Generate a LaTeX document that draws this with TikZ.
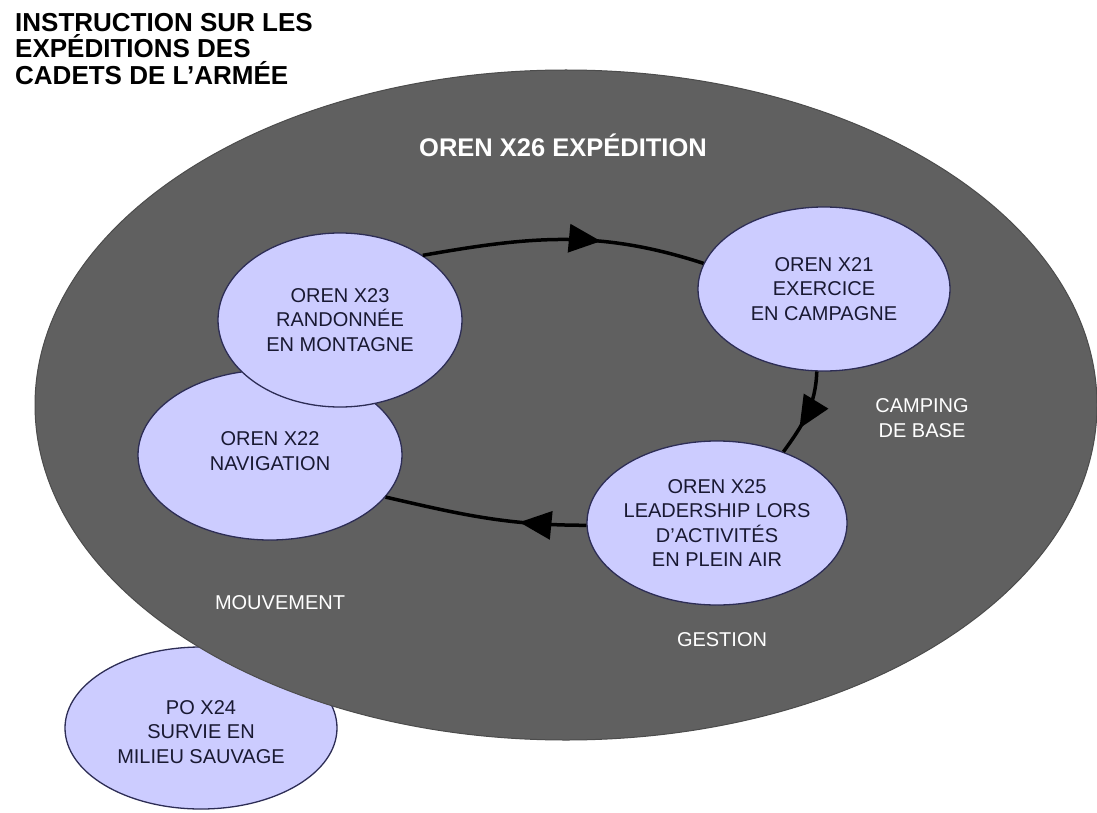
\documentclass[tikz,border=0pt]{standalone}
\usepackage{fontspec}
\setmainfont{Liberation Sans}
\usetikzlibrary{shapes.geometric,arrows.meta,decorations.markings}
\definecolor{darkfill}{RGB}{96,96,96}
\definecolor{lav}{RGB}{204,204,255}
\definecolor{lavline}{RGB}{45,45,85}
\definecolor{navytext}{RGB}{25,25,50}
\begin{document}
\begin{tikzpicture}[x=1pt,y=1pt,
  oval/.style={ellipse, draw=lavline, line width=1.3pt, fill=lav, inner sep=0pt},
  bigoval/.style={ellipse, draw=black!70, line width=1pt, fill=darkfill, inner sep=0pt},
  intext/.style={align=center, text=navytext, font=\fontsize{20}{24.5}\selectfont, inner sep=0pt},
  whitetext/.style={align=center, text=white, font=\fontsize{20}{24.5}\selectfont, inner sep=0pt},
  flow/.style={line width=3.5pt, draw=black},
  arrowat/.style={decoration={markings, mark=at position #1 with {\arrow{Triangle[length=32pt,width=28pt]}}}, postaction={decorate}}
]
\useasboundingbox (0,0) rectangle (1097,-813);
\fill[white] (0,0) rectangle (1097,-813);

% outside ellipse (under the big one)
\node[oval, minimum width=272pt, minimum height=162pt] (x24) at (201,-728) {};

% big ellipse
\node[bigoval, minimum width=1062pt, minimum height=670pt] (big) at (566,-405) {};

% inner ellipses
\node[oval, minimum width=264pt, minimum height=170pt] (x22) at (270,-455) {};
\node[oval, minimum width=244pt, minimum height=174pt] (x23) at (340,-320) {};
\node[oval, minimum width=252pt, minimum height=164pt] (x21) at (824,-289) {};
\node[oval, minimum width=260pt, minimum height=164pt] (x25) at (717,-523) {};

% connectors
\draw[flow, arrowat=0.63] (x23.38) to[out=10, in=162] (x21.168);
\draw[flow, arrowat=0.68] (x21.265) to[out=268, in=54] (x25.47);
\draw[flow, arrowat=0.33] (x25.181) to[out=180, in=-13] (x22.-20);

% texts
\node[anchor=north west, align=left, inner sep=0pt, font=\bfseries\fontsize{26}{26.5}\selectfont] (title) at (15,-13) {INSTRUCTION SUR LES\\EXPÉDITIONS DES\\CADETS DE L’ARMÉE};
\node[anchor=base, text=white, inner sep=0pt, font=\bfseries\fontsize{25.5}{26}\selectfont] (bigtitle) at (563,-157) {OREN X26 EXPÉDITION};

\node[intext] (t23) at (x23) {OREN X23\\RANDONNÉE\\EN MONTAGNE};
\node[intext] (t22) at ([yshift=4pt]x22) {OREN X22\\NAVIGATION};
\node[intext] (t21) at (x21) {OREN X21\\EXERCICE\\EN CAMPAGNE};
\node[intext] (t25) at (x25) {OREN X25\\LEADERSHIP LORS\\D'ACTIVITÉS\\EN PLEIN AIR};
\node[intext] (t24) at ([yshift=-4pt]x24) {PO X24\\SURVIE EN\\MILIEU SAUVAGE};

\node[whitetext] (camp) at (922,-418) {CAMPING\\DE BASE};
\node[whitetext] (mouv) at (280,-603) {MOUVEMENT};
\node[whitetext] (gest) at (722,-640) {GESTION};
\end{tikzpicture}
\end{document}
